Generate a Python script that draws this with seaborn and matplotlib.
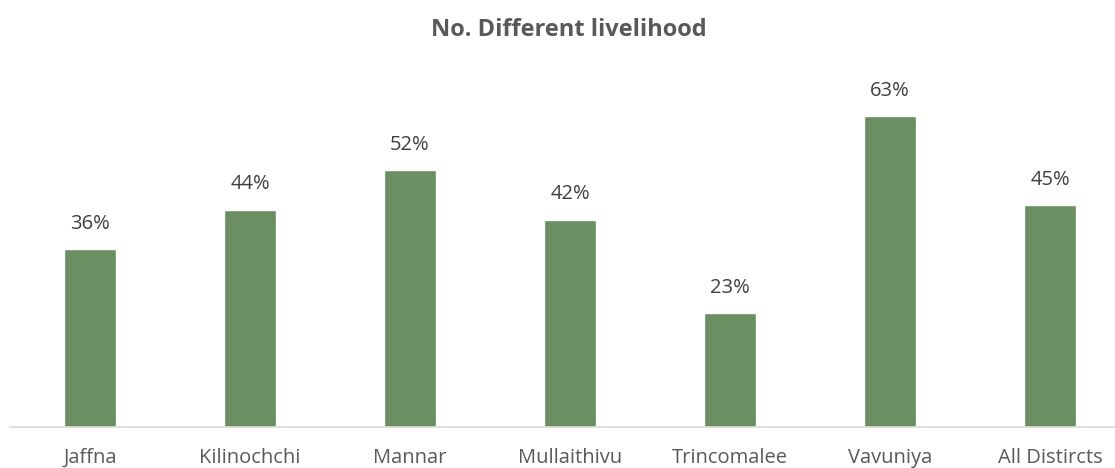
import pandas as pd
import matplotlib.pyplot as plt
import seaborn as sns

# Share of households with different livelihoods, by district
districts = ["Jaffna", "Kilinochchi", "Mannar", "Mullaithivu", "Trincomalee", "Vavuniya", "All Distircts"]
shares = [0.36, 0.44, 0.52, 0.42, 0.23, 0.63, 0.45]

df = pd.DataFrame({"District": districts, "Share": shares})

sns.set_style("white")
plt.rcParams['font.family'] = ['Open Sans', 'DejaVu Sans']

fig = plt.figure(figsize=(11.15, 4.68), dpi=100)
ax = fig.add_axes([10 / 1115, 41 / 468, 1120 / 1115, 395 / 468])

sns.barplot(data=df, x="District", y="Share", color="#6B8F63", width=0.32,
            saturation=1, ax=ax)

ax.set_ylim(0, 0.8)
ax.set_xlim(-0.5, len(districts) - 0.5)
ax.set_xlabel("")
ax.set_ylabel("")
ax.set_yticks([])
ax.tick_params(axis="x", length=0, labelsize=14.5, labelcolor="#595959", pad=15)

for s in ["top", "right", "left"]:
    ax.spines[s].set_visible(False)
ax.spines["bottom"].set_color("#D9D9D9")
ax.spines["bottom"].set_linewidth(1.2)

# value labels
for i, v in enumerate(shares):
    ax.annotate(f"{v:.0%}", (i, v), xytext=(0, 11), textcoords="offset points",
                ha="center", va="bottom", fontsize=14.5, color="#404040")

fig.text(0.51, 0.936, "No. Different livelihood", ha="center", va="center",
         fontsize=17, fontweight="bold", color="#595959")

plt.savefig("out.png", dpi=100)
